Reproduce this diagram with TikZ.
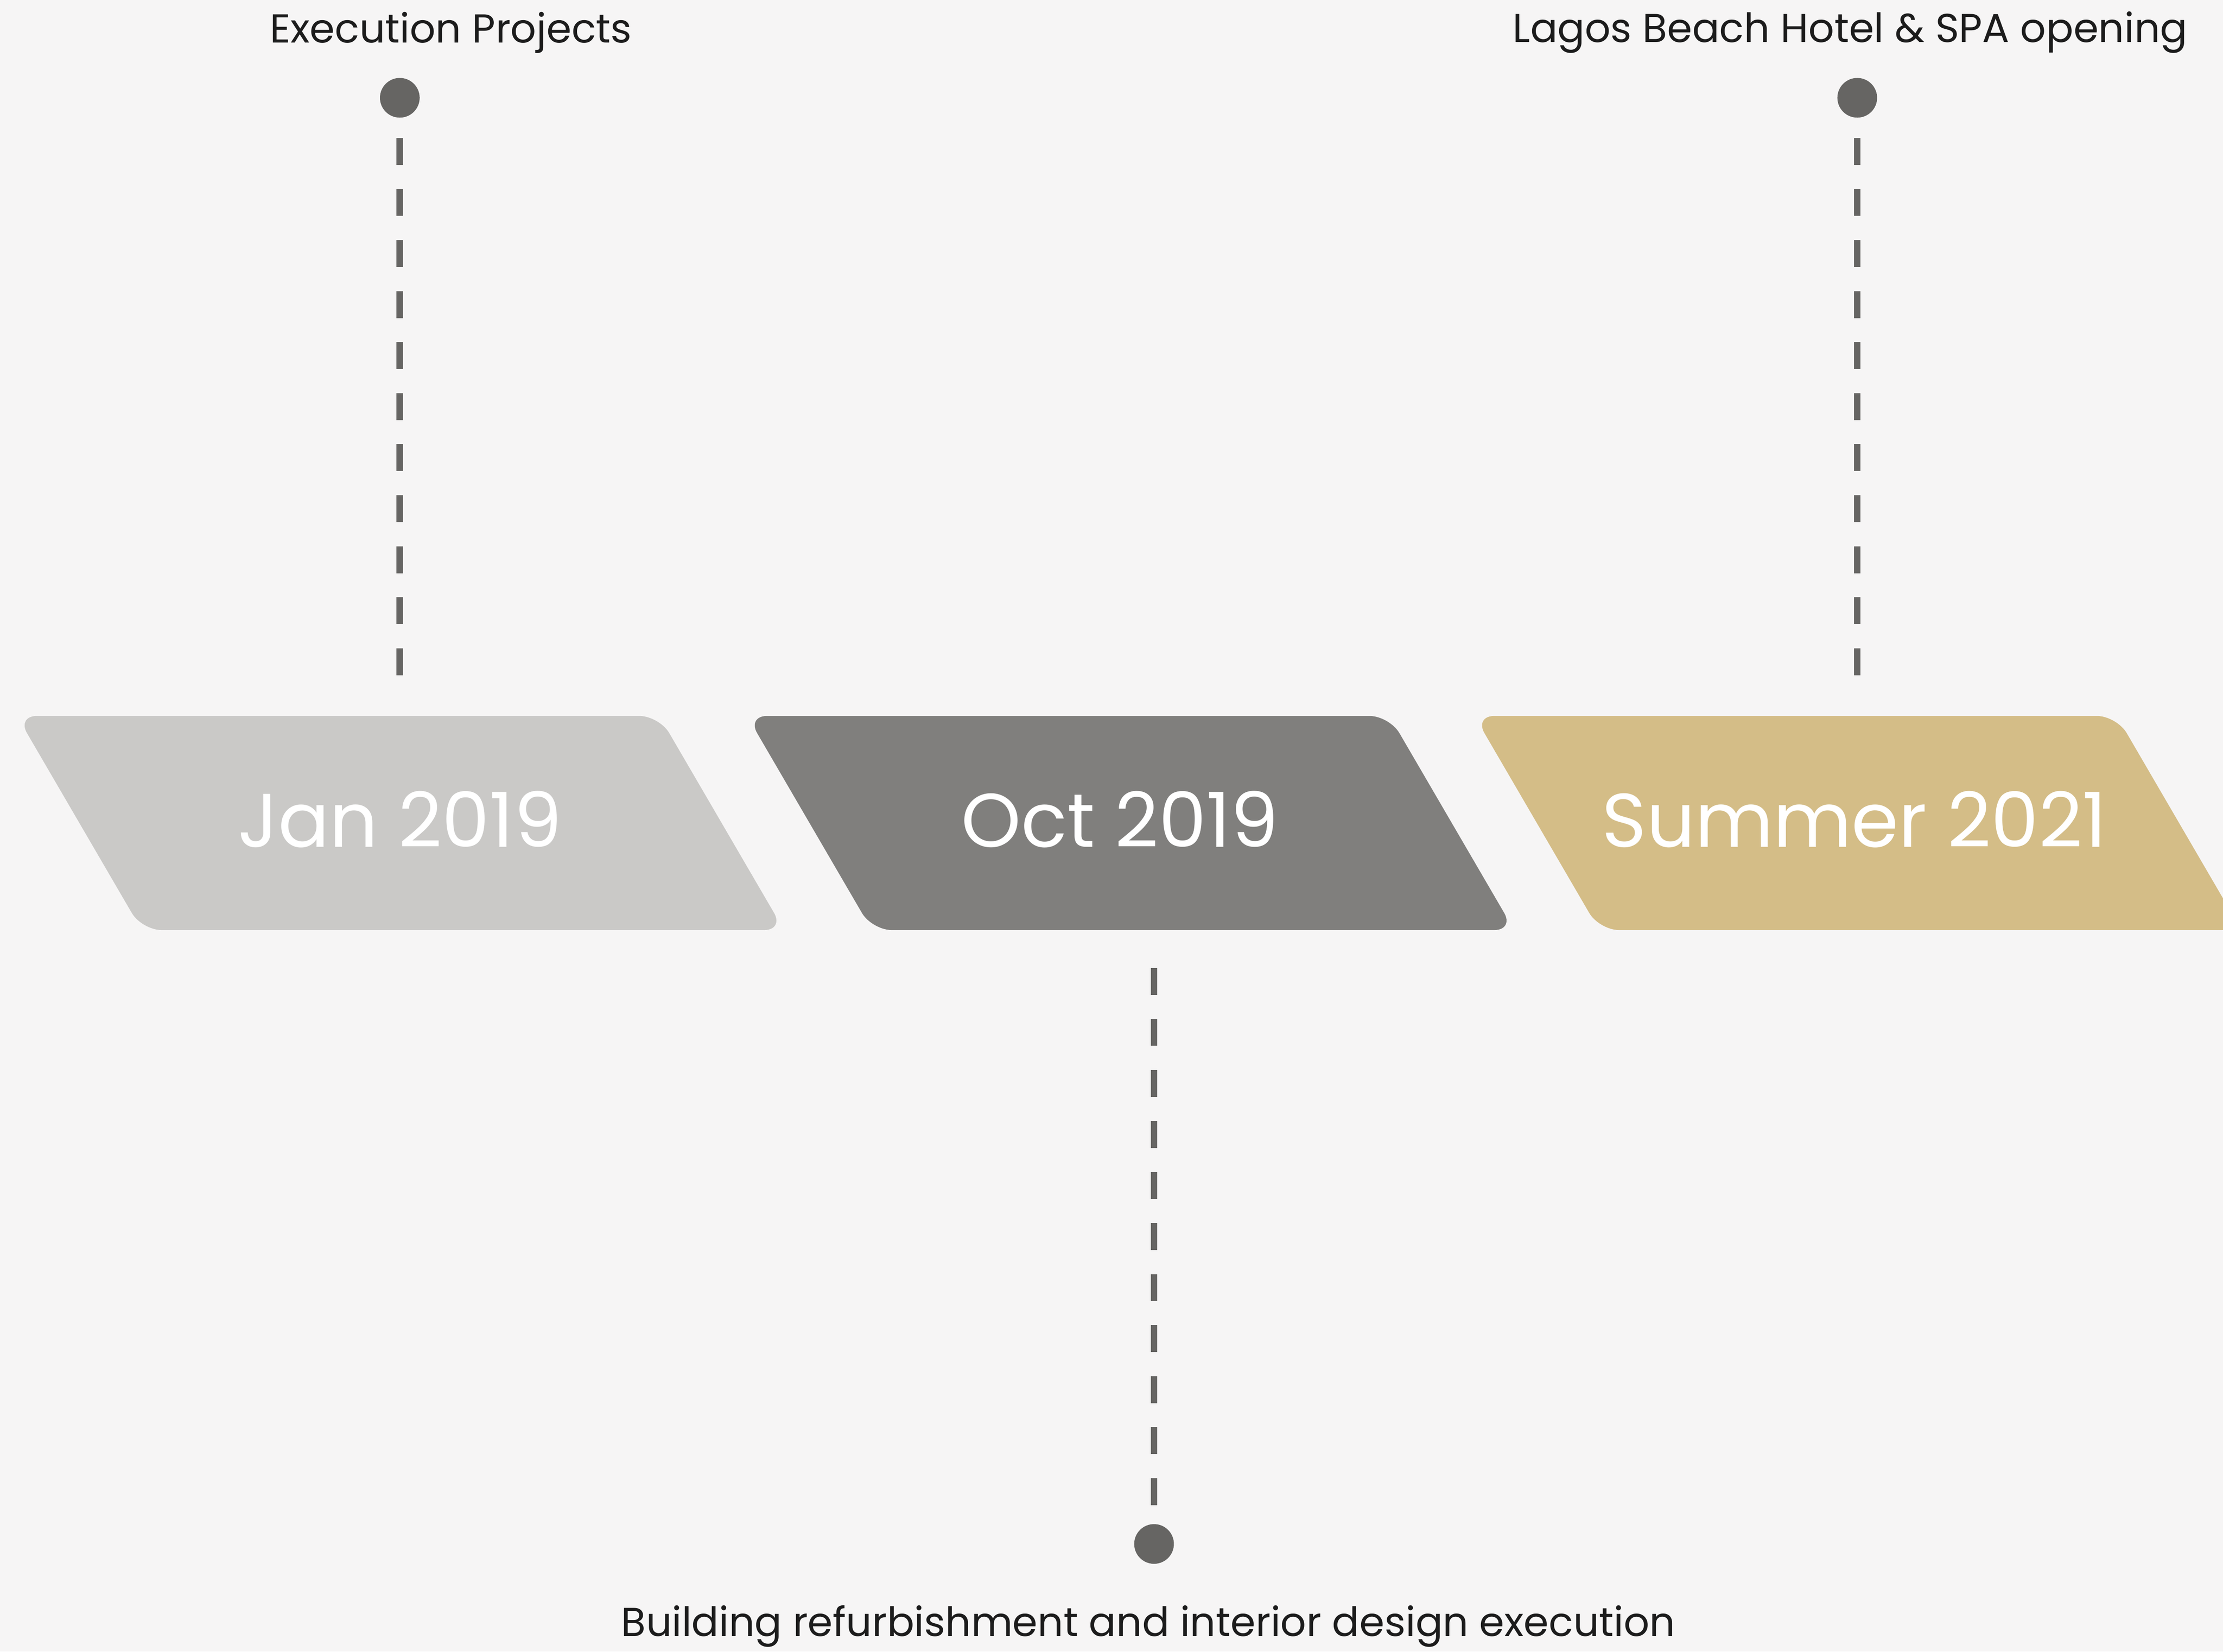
\documentclass[tikz,border=0pt]{standalone}
\usepackage{fontspec}
\setmainfont{Poppins}
\usepackage{xcolor}
\usetikzlibrary{calc}

\definecolor{paper}{HTML}{F6F5F5}
\definecolor{janfill}{HTML}{CAC9C7}
\definecolor{octfill}{HTML}{807F7D}
\definecolor{sumfill}{HTML}{D4BD87}
\definecolor{pin}{HTML}{666563}
\definecolor{ink}{HTML}{1C1C1C}

\tikzset{
    datebox/.style={fill=#1, rounded corners=0.28cm},
    datetext/.style={text=white, font=\fontsize{30.5}{36}\selectfont, inner sep=0pt},
    pindot/.style={circle, fill=pin, inner sep=0pt, minimum size=0.56cm},
    pinline/.style={draw=pin, line width=0.09cm, dash pattern=on 0.38cm off 0.34cm},
    caption/.style={text=ink, font=\fontsize{16.2}{19}\selectfont, inner sep=0pt}
}

\begin{document}
\begin{tikzpicture}[x=0.02cm, y=0.02cm]
    % =====================
    % Canvas
    % =====================
    \fill[paper] (0,0) rectangle (1568,1165);
    \useasboundingbox (0,0) rectangle (1568,1165);
    \clip (0,0) rectangle (1568,1165);

    % =====================
    % Date blocks
    % =====================
    \foreach \n/\x/\c/\tx/\lbl in {jan/12/janfill/282/Jan 2019, oct/527/octfill/790/Oct 2019, sum/1040/sumfill/1308/Summer 2021} {
        \fill[datebox=\c] (\x,660) -- (\x+453,660) -- (\x+541,509) -- (\x+88,509) -- cycle;
        \node[datetext] (\n) at (\tx,587) {\lbl};
        \coordinate (\n top) at (\tx,660);
        \coordinate (\n bot) at (\tx,509);
    }

    % =====================
    % Milestones above
    % =====================
    \node[pindot] (janpin) at (282,1096) {};
    \node[caption] (jancap) at (318,1142) {Execution Projects};
    \draw[pinline, shorten <=0.28cm, shorten >=0.54cm] (janpin.south) -- (janpin |- jantop);

    \node[pindot] (sumpin) at (1310,1096) {};
    \node[caption] (sumcap) at (1305,1142) {Lagos Beach Hotel \& SPA opening};
    \draw[pinline, shorten <=0.28cm, shorten >=0.54cm] (sumpin.south) -- (sumpin |- sumtop);

    % =====================
    % Milestone below
    % =====================
    \node[pindot] (octpin) at (814,76) {};
    \node[caption] (octcap) at (810,18) {Building refurbishment and interior design execution};
    \draw[pinline, shorten <=0.26cm, shorten >=0.48cm] (octpin.north) -- (octpin |- octbot);
\end{tikzpicture}
\end{document}
